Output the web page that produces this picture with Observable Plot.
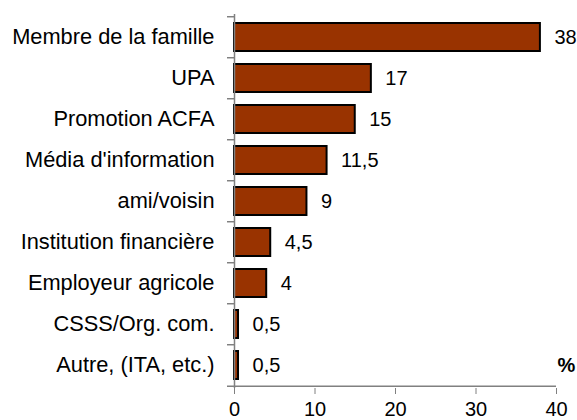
<!DOCTYPE html>
<html>
<head>
<meta charset="utf-8">
<script src="https://cdn.jsdelivr.net/npm/d3@7"></script>
<script src="https://cdn.jsdelivr.net/npm/@observablehq/plot@0.6"></script>
<style>
  html, body { margin: 0; padding: 0; background: #fff; }
</style>
</head>
<body>
<div id="chart"></div>
<script>
const categories = [
  "Membre de la famille",
  "UPA",
  "Promotion ACFA",
  "Média d'information",
  "ami/voisin",
  "Institution financière",
  "Employeur agricole",
  "CSSS/Org. com.",
  "Autre, (ITA, etc.)"
];
const values = [38, 17, 15, 11.5, 9, 4.5, 4, 0.5, 0.5];
const xTicks = [0, 10, 20, 30, 40];
const unitLabel = "%";

const data = categories.map((c, i) => ({cat: c, v: values[i]}));
const fmt = v => String(v).replace(".", ",");

const W = 577, H = 420, mL = 234, mR = 21, mT = 14, mB = 32;
const step = (H - mT - mB) / categories.length;
const pxPerUnit = (W - mL - mR) / (xTicks[xTicks.length - 1] - xTicks[0]);
const tickUnits = 7 / pxPerUnit;
const grey = "#808080";
const last = categories[categories.length - 1];
const xMax = xTicks[xTicks.length - 1];
const fs = 21.8;
const fsNum = 20;

const chart = Plot.plot({
  width: W,
  height: H,
  marginLeft: mL,
  marginRight: mR,
  marginTop: mT,
  marginBottom: mB,
  style: {fontFamily: "'Liberation Sans', Arial, sans-serif", fontSize: fs + "px", color: "black", background: "white"},
  x: {domain: [xTicks[0], xMax], ticks: xTicks},
  y: {domain: categories, paddingInner: 0.32, paddingOuter: 0.16},
  marks: [
    Plot.barX(data, {x: "v", y: "cat", fill: "#993300", stroke: "black", strokeWidth: 2}),
    Plot.ruleX([0], {stroke: grey, strokeWidth: 1.5}),
    Plot.ruleY(categories, {y: d => d, x1: -tickUnits, x2: 0, dy: -step / 2, stroke: grey, strokeWidth: 1.5}),
    Plot.ruleY([last], {y: d => d, x1: -tickUnits, x2: xMax, dy: step / 2, stroke: grey, strokeWidth: 1.5}),
    Plot.axisX({ticks: xTicks, tickSize: 6, tickPadding: 7, stroke: grey, fill: "black", label: null, fontSize: fsNum}),
    Plot.axisY({tickSize: 0, tickPadding: 20, label: null, fontSize: fs, fill: "black"}),
    Plot.text(data, {x: "v", y: "cat", text: d => fmt(d.v), dx: 14, textAnchor: "start", fontSize: fsNum, fill: "black"}),
    Plot.text([unitLabel], {x: xMax, y: () => last, text: d => d, dx: 1, textAnchor: "start", fontWeight: "bold", fontSize: fsNum, fill: "black"})
  ]
});
document.getElementById("chart").appendChild(chart);
</script>
</body>
</html>
